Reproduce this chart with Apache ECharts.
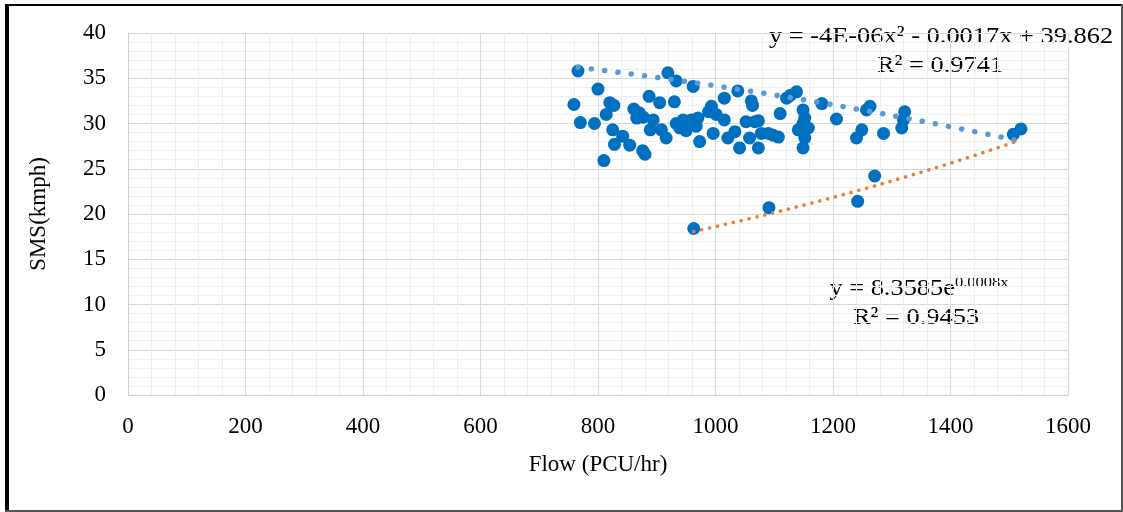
<!DOCTYPE html>
<html>
<head>
<meta charset="utf-8">
<script src="https://cdn.jsdelivr.net/npm/echarts@6/dist/echarts.min.js"></script>
<style>
  html, body { margin: 0; padding: 0; background: #ffffff; }
  #chart { width: 1123px; height: 512px; }
</style>
</head>
<body>
<div id="chart"></div>
<script>
// Observed traffic: flow (PCU/hr) against space mean speed (km/h)
const flow = [
  766, 800, 759, 820, 827, 814, 770, 794, 825, 842, 828, 854, 810,
  861, 866, 877, 870, 887, 894, 889, 905, 876, 880,
  919, 933, 962, 930, 993, 1015, 1038, 1061, 1063,
  908, 916, 933, 945, 939, 959, 970, 967, 973, 996, 1001, 1015, 1021,
  1033, 1041, 1052, 1058, 1067, 1073, 1078, 1073, 988, 950,
  1110, 1107, 1098, 1090, 1121, 1138, 1127, 1149, 1152, 1149, 1158,
  1141, 1152, 1149, 1181, 1206, 1240, 1249, 1257, 1263, 1286, 1317,
  1320, 1322,
  963, 1091, 1242, 1271, 1507, 1520
];
const sms = [
  35.8, 33.8, 32.1, 32.3, 32.0, 31.0, 30.1, 30.0, 29.3, 28.6, 27.7, 27.6, 25.9,
  31.6, 30.6, 30.7, 31.2, 33.0, 30.4, 29.3, 32.3, 27.0, 26.6,
  35.6, 34.7, 34.1, 32.4, 31.9, 32.8, 33.6, 32.5, 32.0,
  29.3, 28.4, 30.0, 30.4, 29.5, 30.4, 30.6, 29.7, 28.0, 28.9, 31.0, 30.4, 28.4,
  29.1, 27.3, 30.2, 28.4, 30.2, 30.3, 28.9, 27.3, 31.3, 29.2,
  31.1, 28.5, 28.7, 28.9, 32.8, 33.5, 33.1, 31.5, 30.6, 30.0, 29.5,
  29.3, 28.4, 27.3, 32.2, 30.5, 28.4, 29.3, 31.5, 31.9, 28.9, 29.5,
  30.4, 31.3,
  18.4, 20.7, 21.4, 24.2, 28.8, 29.4
];

// Trendline equations as reported on the chart
const polyCoef = [-4e-6, -0.0017, 39.862];   // y = a x^2 + b x + c
const polyRange = [766, 1520];
const polyR2 = '0.9741';
const expCoef = [8.3585, 0.0008];            // y = k e^(r x)
const expRange = [963, 1520];
const expR2 = '0.9453';

const points = flow.map((f, i) => [f, sms[i]]);

function sampleCurve(fn, range, step) {
  const out = [];
  for (let x = range[0]; x < range[1]; x += step) out.push([x, fn(x)]);
  out.push([range[1], fn(range[1])]);
  return out;
}
const polyLine = sampleCurve(x => polyCoef[0] * x * x + polyCoef[1] * x + polyCoef[2], polyRange, 5);
const expLine = sampleCurve(x => expCoef[0] * Math.exp(expCoef[1] * x), expRange, 5);

const serif = '"Liberation Serif", "Times New Roman", serif';
const chart = echarts.init(document.getElementById('chart'), null, { renderer: 'canvas' });

const plain = v => String(v);

chart.setOption({
  animation: false,
  backgroundColor: '#ffffff',
  grid: { left: 128, right: 55, top: 33, bottom: 117, containLabel: false },
  xAxis: {
    type: 'value', min: 0, max: 1600, interval: 200,
    name: 'Flow (PCU/hr)', nameLocation: 'middle', nameGap: 58,
    nameTextStyle: { fontFamily: serif, fontSize: 23, color: '#000' },
    axisLine: { show: true, lineStyle: { color: '#d0d0d0', width: 1 } },
    axisTick: { show: false },
    axisLabel: { margin: 20, fontFamily: serif, fontSize: 23, color: '#000', formatter: plain },
    splitLine: { show: true, lineStyle: { color: '#d9d9d9', width: 1 } },
    minorTick: { show: false, splitNumber: 5 },
    minorSplitLine: { show: true, lineStyle: { color: '#efefef', width: 1 } }
  },
  yAxis: {
    type: 'value', min: 0, max: 40, interval: 5,
    name: 'SMS(kmph)', nameLocation: 'middle', nameGap: 78, nameRotate: 90,
    nameTextStyle: { fontFamily: serif, fontSize: 23, color: '#000' },
    axisLine: { show: true, lineStyle: { color: '#d0d0d0', width: 1 } },
    axisTick: { show: false },
    axisLabel: { margin: 22, fontFamily: serif, fontSize: 23, color: '#000', formatter: plain },
    splitLine: { show: true, lineStyle: { color: '#d9d9d9', width: 1 } },
    minorTick: { show: false, splitNumber: 5 },
    minorSplitLine: { show: true, lineStyle: { color: '#efefef', width: 1 } }
  },
  series: [
    {
      type: 'scatter', data: points, symbol: 'circle', symbolSize: 13,
      itemStyle: { color: '#0070c0', opacity: 1 }, z: 2
    },
    {
      type: 'line', data: polyLine, showSymbol: false, silent: true, z: 3,
      lineStyle: { color: '#5b9bd5', width: 5.5, type: [0.1, 13.3], cap: 'round', opacity: 1 }
    },
    {
      type: 'line', data: expLine, showSymbol: false, silent: true, z: 3,
      lineStyle: { color: '#ed7d31', width: 3.6, type: [0.1, 8], cap: 'round', opacity: 1 }
    }
  ],
  graphic: [
    // frame around the figure
    { type: 'rect', shape: { x: 5, y: 4, width: 4, height: 508 }, style: { fill: '#000' }, silent: true },
    { type: 'rect', shape: { x: 5, y: 4, width: 1118, height: 2 }, style: { fill: '#000' }, silent: true },
    { type: 'rect', shape: { x: 1121, y: 4, width: 2, height: 508 }, style: { fill: '#555' }, silent: true },
    { type: 'rect', shape: { x: 5, y: 510, width: 1118, height: 2 }, style: { fill: '#555' }, silent: true },
    // trendline equations
    {
      type: 'text', x: 941, y: 37, scaleX: 1.1, silent: true,
      style: {
        text: 'y = -4E-06x² - 0.0017x + ' + polyCoef[2],
        align: 'center', verticalAlign: 'middle',
        font: '24px ' + serif, fill: '#000'
      }
    },
    {
      type: 'text', x: 940, y: 66, scaleX: 1.1, silent: true,
      style: { text: 'R² = ' + polyR2, align: 'center', verticalAlign: 'middle', font: '24px ' + serif, fill: '#000' }
    },
    {
      type: 'text', x: 919, y: 288, scaleX: 1.1, silent: true,
      style: {
        text: '{b|y = ' + expCoef[0] + 'e}{s|' + expCoef[1] + 'x}',
        align: 'center', verticalAlign: 'middle',
        rich: {
          b: { fontFamily: serif, fontSize: 24, color: '#000', lineHeight: 25, verticalAlign: 'bottom' },
          s: { fontFamily: serif, fontSize: 15, color: '#000', lineHeight: 25, verticalAlign: 'top' }
        }
      }
    },
    {
      type: 'text', x: 916, y: 318, scaleX: 1.1, silent: true,
      style: { text: 'R² = ' + expR2, align: 'center', verticalAlign: 'middle', font: '24px ' + serif, fill: '#000' }
    }
  ]
});
</script>
</body>
</html>
